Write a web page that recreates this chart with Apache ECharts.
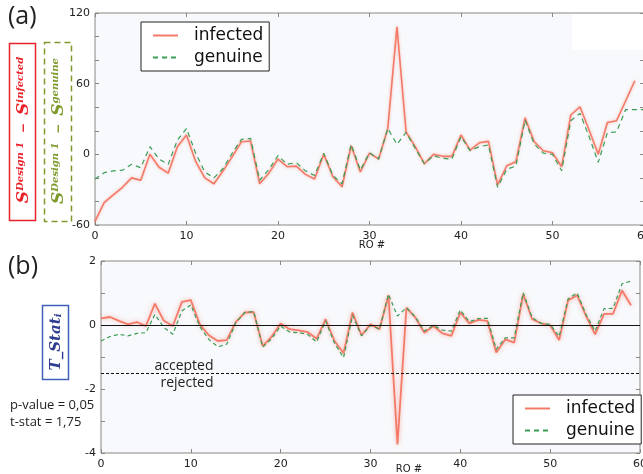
<!DOCTYPE html>
<html>
<head>
<meta charset="utf-8">
<script src="https://cdn.jsdelivr.net/npm/echarts@6/dist/echarts.min.js"></script>
<style>
  html, body { margin: 0; padding: 0; background: #fff; }
  #chart { width: 643px; height: 474px; }
</style>
</head>
<body>
<div id="chart"></div>
<script>
  // (a) S_design1 - S_x per RO
  var infectedA = [-57, -41, -34.5, -28, -20, -22, 0, -11, -16, 6.5, 16.4, -6, -20, -25, -14, -2, 10.7, 11.3, -25, -16,
    -4, -10.5, -10, -17, -21, 0, -19, -27.5, 7.3, -15, 1, -4, 22, 108.3, 19, 6.5, -8, 0, -1.7, -1.7,
    16.4, 3.6, 9.8, 11, -26, -9.7, -6.3, 31, 10.7, 3, 1.4, -10.5, 33.4, 40.4, 20.6, 0, 27, 28.5, 45.5, 62.5];
  var genuineA = [-21, -15.6, -14, -13.5, -8.5, -11.4, 6.5, -4, -8.5, 12, 22, 1, -15, -20, -12, 1, 12.7, 13.5, -22, -13,
    -1, -8.5, -7, -14, -18, 1, -18, -25, 8.5, -13.5, 1.4, -4, 22, 8.5, 18.7, 5, -8, -1.2, -3.4, -4,
    15, 3, 6.5, 8, -28, -12.7, -10, 29, 8.7, 1, 0, -14, 28.5, 34.8, 15, -6.8, 18.3, 19, 38, 38, 38];

  // (b) T_Stat_i per RO
  var infectedB = [0.21, 0.25, 0.13, 0.02, 0.09, -0.03, 0.67, 0.13, -0.03, 0.72, 0.78, 0.02, -0.32, -0.5, -0.47, 0.09, 0.39, 0.4, -0.66, -0.36,
    0.05, -0.13, -0.17, -0.22, -0.43, 0.18, -0.5, -0.88, 0.39, -0.32, 0.02, -0.13, 0.93, -3.73, 0.54, 0.23, -0.24, -0.03, -0.26, -0.34,
    0.39, 0.05, 0.16, 0.13, -0.86, -0.45, -0.55, 0.96, 0.18, 0.05, -0.01, -0.47, 0.77, 0.93, 0.28, -0.29, 0.35, 0.35, 1.08, 0.62];
  var genuineB = [-0.5, -0.36, -0.29, -0.34, -0.26, -0.24, 0.33, -0.08, -0.29, 0.44, 0.63, -0.05, -0.45, -0.68, -0.6, 0.07, 0.39, 0.42, -0.69, -0.43,
    -0.03, -0.22, -0.24, -0.29, -0.53, 0.13, -0.57, -1.02, 0.3, -0.34, -0.01, -0.13, 0.96, 0.28, 0.54, 0.25, -0.19, -0.01, -0.16, -0.19,
    0.47, 0.1, 0.2, 0.21, -0.76, -0.4, -0.4, 1.01, 0.23, 0.05, 0.02, -0.36, 0.82, 1.0, 0.33, -0.19, 0.51, 0.52, 1.29, 1.37];

  var threshold = -1.5;

  var red = '#f47a68';
  var green = '#3a9d56';
  var frame = '#8c8782';
  var tickFont = 'DejaVu Sans';

  function pairs(arr) {
    return arr.map(function (v, i) { return [i, v]; });
  }

  var chart = echarts.init(document.getElementById('chart'));

  function xAx(gi, pos, show) {
    return {
      type: 'value', gridIndex: gi, position: pos, min: 0, max: 60, interval: 10,
      axisLine: { show: false, onZero: false },
      axisTick: { show: true, inside: true, length: 4, lineStyle: { color: frame } },
      axisLabel: { show: show, color: '#222', fontSize: 11, fontFamily: tickFont, margin: 6 },
      splitLine: { show: false }
    };
  }
  function yAx(gi, pos, min, max, step, labelStep, show) {
    return {
      type: 'value', gridIndex: gi, position: pos, min: min, max: max, interval: step,
      axisLine: { show: false, onZero: false },
      axisTick: { show: true, inside: true, length: 4, lineStyle: { color: frame } },
      axisLabel: {
        show: show, color: '#222', fontSize: 11, fontFamily: tickFont, margin: 5,
        formatter: function (v) { return v % labelStep === 0 ? v : ''; }
      },
      splitLine: { show: false }
    };
  }

  var legendBase = {
    orient: 'vertical',
    data: ['infected', 'genuine'],
    borderColor: '#222', borderWidth: 1, borderRadius: 0,
    backgroundColor: '#fff',
    padding: [5, 6, 5, 11],
    itemGap: 5, itemWidth: 25, itemHeight: 14,
    itemStyle: { color: 'transparent', borderColor: 'transparent', borderWidth: 0 },
    textStyle: { fontSize: 17, fontFamily: tickFont, color: '#111', padding: [0, 0, 0, 11] }
  };

  var option = {
    animation: false,
    backgroundColor: '#fff',
    grid: [
      { left: 95, top: 13, width: 549, height: 212, show: true, outerBoundsMode: 'none', containLabel: false,
        backgroundColor: '#f8f9fc', borderColor: frame, borderWidth: 1 },
      { left: 101, top: 261, width: 539, height: 192, show: true, outerBoundsMode: 'none', containLabel: false,
        backgroundColor: '#f8f9fc', borderColor: frame, borderWidth: 1 }
    ],
    legend: [
      Object.assign({ left: 141, top: 22 }, legendBase),
      Object.assign({ left: 513, top: 395 }, legendBase)
    ],
    xAxis: [xAx(0, 'bottom', true), xAx(0, 'top', false), xAx(1, 'bottom', true), xAx(1, 'top', false)],
    yAxis: [
      yAx(0, 'left', -60, 120, 20, 60, true), yAx(0, 'right', -60, 120, 20, 60, false),
      yAx(1, 'left', -4, 2, 1, 2, true), yAx(1, 'right', -4, 2, 1, 2, false)
    ],
    series: [
      {
        name: 'infected', type: 'line', xAxisIndex: 0, yAxisIndex: 0, data: pairs(infectedA),
        symbol: 'none', z: 3,
        lineStyle: { color: red, width: 1.6, shadowBlur: 3, shadowColor: 'rgba(244,122,104,0.5)' },
        itemStyle: { color: red }
      },
      {
        name: 'genuine', type: 'line', xAxisIndex: 0, yAxisIndex: 0, data: pairs(genuineA),
        symbol: 'none', z: 4,
        lineStyle: { color: green, width: 1.2, type: [5, 4] },
        itemStyle: { color: green }
      },
      {
        name: 'infected', type: 'line', xAxisIndex: 2, yAxisIndex: 2, data: pairs(infectedB),
        symbol: 'none', z: 3,
        lineStyle: { color: red, width: 1.8, shadowBlur: 4, shadowColor: 'rgba(244,122,104,0.6)' },
        itemStyle: { color: red },
        markLine: {
          silent: true, symbol: 'none', label: { show: false },
          data: [
            { yAxis: 0, lineStyle: { color: '#111', width: 1.2, type: 'solid' } },
            { yAxis: threshold, lineStyle: { color: '#111', width: 1.2, type: [3, 2] } }
          ]
        }
      },
      {
        name: 'genuine', type: 'line', xAxisIndex: 2, yAxisIndex: 2, data: pairs(genuineB),
        symbol: 'none', z: 4,
        lineStyle: { color: green, width: 1.2, type: [4, 3] },
        itemStyle: { color: green }
      }
    ],
    graphic: [
      { type: 'rect', z: 10, shape: { x: 572, y: 14, width: 71, height: 36 }, style: { fill: '#fff' } },
      { type: 'text', left: 8, top: 4, style: { text: '(a)', fontSize: 25, fontFamily: 'Open Sans', fill: '#222' } },
      { type: 'text', left: 8, top: 254, style: { text: '(b)', fontSize: 25, fontFamily: 'Open Sans', fill: '#222' } },
      { type: 'rect', shape: { x: 9.5, y: 43.5, width: 26, height: 177 }, style: { fill: '#fff', stroke: '#e8232a', lineWidth: 1.5 } },
      { type: 'rect', shape: { x: 44.5, y: 42.5, width: 27, height: 179 }, style: { fill: '#fff', stroke: '#7f9a2c', lineWidth: 1.5, lineDash: [6, 4] } },
      { type: 'rect', shape: { x: 42.5, y: 305.5, width: 26, height: 74 }, style: { fill: '#fff', stroke: '#3f5fb8', lineWidth: 1.5 } },
      {
        type: 'text', x: 24, y: 130, rotation: Math.PI / 2,
        style: {
          text: '{s|S}{sup|Design 1}{m|  −  }{s|S}{sup|infected}',
          align: 'center', verticalAlign: 'middle', fill: '#e8232a',
          rich: {
            s: { fontSize: 17, fontStyle: 'italic', fontWeight: 'bold', fontFamily: 'DejaVu Serif', fill: '#e8232a' },
            sup: { fontSize: 10, fontStyle: 'italic', fontWeight: 'bold', fontFamily: 'DejaVu Serif', fill: '#e8232a', verticalAlign: 'top' },
            m: { fontSize: 12, fontWeight: 'bold', fontFamily: 'DejaVu Serif', fill: '#e8232a' }
          }
        }
      },
      {
        type: 'text', x: 59, y: 131, rotation: Math.PI / 2,
        style: {
          text: '{s|S}{sup|Design 1}{m|  −  }{s|S}{sup|genuine}',
          align: 'center', verticalAlign: 'middle', fill: '#7f9a2c',
          rich: {
            s: { fontSize: 17, fontStyle: 'italic', fontWeight: 'bold', fontFamily: 'DejaVu Serif', fill: '#7f9a2c' },
            sup: { fontSize: 10, fontStyle: 'italic', fontWeight: 'bold', fontFamily: 'DejaVu Serif', fill: '#7f9a2c', verticalAlign: 'top' },
            m: { fontSize: 12, fontWeight: 'bold', fontFamily: 'DejaVu Serif', fill: '#7f9a2c' }
          }
        }
      },
      {
        type: 'text', x: 56, y: 342, rotation: Math.PI / 2,
        style: {
          text: '{t|T_Stat}{sub|i}',
          align: 'center', verticalAlign: 'middle', fill: '#2e3d8f',
          rich: {
            t: { fontSize: 15, fontStyle: 'italic', fontWeight: 'bold', fontFamily: 'DejaVu Serif', fill: '#2e3d8f' },
            sub: { fontSize: 10, fontStyle: 'italic', fontWeight: 'bold', fontFamily: 'DejaVu Serif', fill: '#2e3d8f', verticalAlign: 'bottom' }
          }
        }
      },
      { type: 'text', left: 10, top: 399, style: { text: 'p-value = 0,05', fontSize: 13, fontFamily: 'Open Sans', fill: '#222' } },
      { type: 'text', left: 10, top: 416, style: { text: 't-stat = 1,75', fontSize: 13, fontFamily: 'Open Sans', fill: '#222' } },
      { type: 'text', x: 184, y: 366, style: { text: 'accepted', align: 'center', verticalAlign: 'middle', fontSize: 14, fontFamily: 'Open Sans', fill: '#222' } },
      { type: 'text', x: 187, y: 383, style: { text: 'rejected', align: 'center', verticalAlign: 'middle', fontSize: 14, fontFamily: 'Open Sans', fill: '#222' } },
      { type: 'text', x: 372, y: 245, style: { text: 'RO #', align: 'center', verticalAlign: 'middle', fontSize: 10, fontFamily: tickFont, fill: '#222' } },
      { type: 'text', x: 409, y: 469, style: { text: 'RO #', align: 'center', verticalAlign: 'middle', fontSize: 10, fontFamily: tickFont, fill: '#222' } }
    ]
  };

  chart.setOption(option);
</script>
</body>
</html>
